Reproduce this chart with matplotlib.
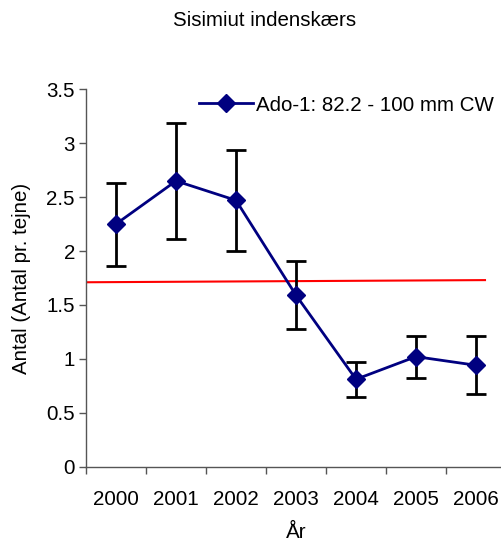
import matplotlib
matplotlib.use("Agg")
import matplotlib.pyplot as plt
import numpy as np

plt.rcParams['font.family'] = ['Liberation Sans', 'DejaVu Sans']

years = ['2000', '2001', '2002', '2003', '2004', '2005', '2006']
values = [2.25, 2.65, 2.47, 1.59, 0.81, 1.02, 0.94]
upper = [2.63, 3.19, 2.94, 1.91, 0.97, 1.21, 1.21]
lower = [1.86, 2.11, 2.00, 1.28, 0.65, 0.82, 0.67]
ref_line = [1.71, 1.73]
series_label = 'Ado-1: 82.2 - 100 mm CW'

FS = 14.8
fig = plt.figure(figsize=(5.01, 5.45), dpi=100)
W, H = 501, 545
ax = fig.add_axes([86 / W, 1 - 466.6 / H, 420 / W, (466.6 - 89.3) / H])

x = np.arange(len(years)) + 0.5
vals = np.array(values)
yerr = np.array([vals - np.array(lower), np.array(upper) - vals])

ax.errorbar(x, vals, yerr=yerr, fmt='none', ecolor='black', elinewidth=2,
            capsize=7, capthick=2, zorder=2)
ax.plot(x, vals, color='#000080', lw=2, marker='D', markersize=9,
        markerfacecolor='#000080', markeredgecolor='#000080', zorder=3,
        label=series_label)
ax.plot([0, 6.65], ref_line, color='#ff0000', lw=1.5, zorder=1)

ax.set_xlim(0, 7)
ax.set_ylim(0, 3.5)
ax.set_yticks(np.arange(0, 3.51, 0.5))
ax.set_yticklabels(['0', '0.5', '1', '1.5', '2', '2.5', '3', '3.5'])
ax.set_xticks(np.arange(0, 7))
ax.set_xticklabels([])
ax.set_xticks(x, minor=True)
ax.set_xticklabels(years, minor=True)
ax.tick_params(axis='x', which='minor', length=0, pad=17, labelsize=FS)
ax.tick_params(axis='x', which='major', length=5, width=1, color='#555555')
ax.tick_params(axis='y', length=5, width=1, color='#555555', labelsize=FS, pad=3)

for s in ['top', 'right']:
    ax.spines[s].set_visible(False)
for s in ['left', 'bottom']:
    ax.spines[s].set_color('#555555')
    ax.spines[s].set_linewidth(1)

ax.legend(loc='upper left', bbox_to_anchor=(101 / 420, 1.016), frameon=False,
          fontsize=FS, handlelength=2.6, handletextpad=0.15, borderaxespad=0.2)

fig.text(265 / W, 1 - 20 / H, 'Sisimiut indenskærs', ha='center', va='center', fontsize=FS)
fig.text(22 / W, 1 - 278 / H, 'Antal (Antal pr. tejne)', ha='center', va='center',
         rotation=90, fontsize=FS)
fig.text(296 / W, 1 - 533 / H, 'År', ha='center', va='center', fontsize=FS)

fig.savefig('out.png', dpi=100)
